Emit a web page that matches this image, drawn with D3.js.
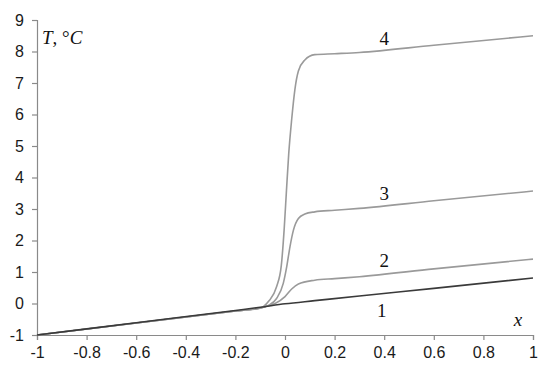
<!DOCTYPE html>
<html>
<head>
<meta charset="utf-8">
<script src="https://cdn.jsdelivr.net/npm/d3@7"></script>
<style>
  html, body { margin: 0; padding: 0; background: #fff; }
  svg { display: block; }
</style>
</head>
<body>
<svg id="chart" width="550" height="370"></svg>
<script>
const xTicks = [-1, -0.8, -0.6, -0.4, -0.2, 0, 0.2, 0.4, 0.6, 0.8, 1];
const yTicks = [-1, 0, 1, 2, 3, 4, 5, 6, 7, 8, 9];

const x1 = [-1, -0.6, -0.2, -0.1, 0, 0.12, 0.3, 0.6, 1];
const t1 = [-1, -0.61, -0.22, -0.12, -0.01, 0.09, 0.24, 0.48, 0.81];

const x2 = [-1, -0.6, -0.2, -0.1, -0.08, -0.04, 0, 0.027, 0.054, 0.12, 0.2, 0.3, 0.6, 1];
const t2 = [-1, -0.62, -0.24, -0.14, -0.1, 0.0, 0.22, 0.46, 0.62, 0.74, 0.79, 0.85, 1.1, 1.41];

const x3 = [-1, -0.6, -0.2, -0.1, -0.067, -0.034, -0.007, 0.007, 0.02, 0.034, 0.054, 0.08, 0.12, 0.2, 0.3, 0.6, 1];
const t3 = [-1, -0.62, -0.24, -0.14, -0.06, 0.16, 0.64, 1.17, 1.8, 2.33, 2.7, 2.84, 2.91, 2.96, 3.02, 3.26, 3.57];

const x4 = [-1, -0.6, -0.2, -0.1, -0.067, -0.034, -0.015, -0.003, 0.006, 0.015, 0.027, 0.04, 0.054, 0.08, 0.12, 0.2, 0.3, 0.6, 1];
const t4 = [-1, -0.62, -0.24, -0.15, 0.06, 0.53, 1.2, 2.4, 3.6, 4.75, 5.85, 6.8, 7.38, 7.73, 7.9, 7.93, 7.97, 8.2, 8.5];

const curveLabels = ["1", "2", "3", "4"];
const labelX = [0.39, 0.4, 0.4, 0.4];
const labelT = [-0.42, 1.15, 3.29, 8.2];

const svg = d3.select("#chart");
const x = d3.scaleLinear().domain([-1, 1]).range([37, 533]);
const y = d3.scaleLinear().domain([-1, 9]).range([335, 20]);

const axisColor = "#8a8a8a";
const tickFont = "Arial, 'Liberation Sans', sans-serif";
const serif = "'Liberation Serif', 'Times New Roman', serif";

const xAxis = svg.append("g").attr("transform", `translate(0,${y(-1)})`)
  .call(d3.axisBottom(x).tickValues(xTicks).tickSize(5).tickPadding(7)
        .tickFormat(d => String(d)));
const yAxis = svg.append("g").attr("transform", `translate(${x(-1)},0)`)
  .call(d3.axisLeft(y).tickValues(yTicks).tickSize(5).tickPadding(8)
        .tickFormat(d => String(d)));

[xAxis, yAxis].forEach(g => {
  g.select(".domain").attr("stroke", axisColor).attr("stroke-width", 1.2);
  g.selectAll(".tick line").attr("stroke", axisColor).attr("stroke-width", 1.2);
  g.selectAll(".tick text").attr("fill", "#1a1a1a").attr("font-family", tickFont).attr("font-size", 16);
});

const series = [
  {xs: x4, ts: t4, color: "#9a9a9a", w: 1.6},
  {xs: x3, ts: t3, color: "#9a9a9a", w: 1.6},
  {xs: x2, ts: t2, color: "#9a9a9a", w: 1.6},
  {xs: x1, ts: t1, color: "#3a3a3a", w: 1.6}
];

const line = d3.line().x(d => x(d[0])).y(d => y(d[1])).curve(d3.curveMonotoneX);

series.forEach(s => {
  svg.append("path")
    .datum(s.xs.map((v, i) => [v, s.ts[i]]))
    .attr("fill", "none")
    .attr("stroke", s.color)
    .attr("stroke-width", s.w)
    .attr("d", line);
});

curveLabels.forEach((lab, i) => {
  svg.append("text")
    .attr("x", x(labelX[i]))
    .attr("y", y(labelT[i]))
    .attr("text-anchor", "middle")
    .attr("font-family", serif)
    .attr("font-size", 19)
    .attr("fill", "#111")
    .text(lab);
});

svg.append("text")
  .attr("x", 518).attr("y", 326)
  .attr("text-anchor", "middle")
  .attr("font-family", serif).attr("font-style", "italic")
  .attr("font-size", 19).attr("fill", "#111")
  .text("x");

const tl = svg.append("text")
  .attr("x", 42).attr("y", 44)
  .attr("font-family", serif).attr("font-size", 19).attr("fill", "#111");
tl.append("tspan").attr("font-style", "italic").text("T");
tl.append("tspan").text(", °");
tl.append("tspan").attr("font-style", "italic").text("C");
</script>
</body>
</html>
